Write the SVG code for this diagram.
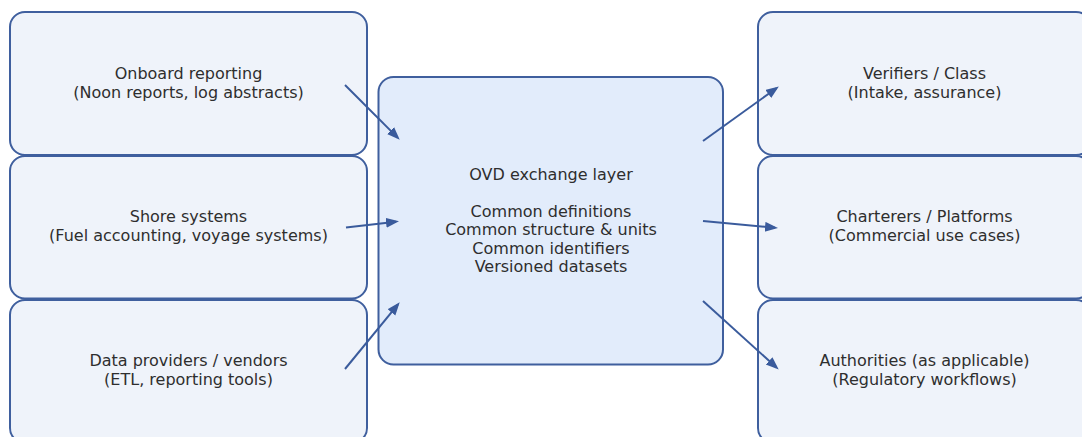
<svg xmlns="http://www.w3.org/2000/svg" width="1082" height="437" viewBox="0 0 1082 437">
  <style>
    .box { fill: #eff3fa; stroke: #3f5f9e; stroke-width: 2; }
    .core { fill: #e2ecfb; stroke: #3f5f9e; stroke-width: 2; }
    .lbl { font-family: "DejaVu Sans", "Liberation Sans", sans-serif; font-size: 16px; fill: #2e2e2e; text-anchor: middle; }
    .flow { stroke: #3a5b9c; stroke-width: 2; fill: none; marker-end: url(#head); }
  </style>
  <defs>
    <marker id="head" markerUnits="userSpaceOnUse" markerWidth="14" markerHeight="11" refX="10" refY="5" orient="auto">
      <path d="M0,0 L13,5 L0,10 z" fill="#3a5b9c"/>
    </marker>
  </defs>
  <rect width="1082" height="437" fill="#ffffff"/>

  <!-- sources -->
  <g id="onboard">
    <rect class="box" x="10" y="12" width="357" height="143" rx="15"/>
    <text class="lbl" x="188.5" y="79">Onboard reporting</text>
    <text class="lbl" x="188.5" y="98">(Noon reports, log abstracts)</text>
  </g>
  <g id="shore">
    <rect class="box" x="10" y="156" width="357" height="142.5" rx="15"/>
    <text class="lbl" x="188.5" y="222">Shore systems</text>
    <text class="lbl" x="188.5" y="241">(Fuel accounting, voyage systems)</text>
  </g>
  <g id="vendors">
    <rect class="box" x="10" y="300" width="357" height="143" rx="15"/>
    <text class="lbl" x="188.5" y="366">Data providers / vendors</text>
    <text class="lbl" x="188.5" y="385">(ETL, reporting tools)</text>
  </g>

  <!-- exchange layer -->
  <g id="ovd">
    <rect class="core" x="378.5" y="77" width="344.5" height="287.5" rx="15"/>
    <text class="lbl" x="551" y="179.5">OVD exchange layer</text>
    <text class="lbl" x="551" y="216.5">Common definitions</text>
    <text class="lbl" x="551" y="235">Common structure &amp; units</text>
    <text class="lbl" x="551" y="253.5">Common identifiers</text>
    <text class="lbl" x="551" y="272">Versioned datasets</text>
  </g>

  <!-- consumers -->
  <g id="verifiers">
    <rect class="box" x="758" y="12" width="333" height="143" rx="15"/>
    <text class="lbl" x="924.5" y="79">Verifiers / Class</text>
    <text class="lbl" x="924.5" y="98">(Intake, assurance)</text>
  </g>
  <g id="charterers">
    <rect class="box" x="758" y="156" width="333" height="142.5" rx="15"/>
    <text class="lbl" x="924.5" y="222">Charterers / Platforms</text>
    <text class="lbl" x="924.5" y="241">(Commercial use cases)</text>
  </g>
  <g id="authorities">
    <rect class="box" x="758" y="300" width="333" height="143" rx="15"/>
    <text class="lbl" x="924.5" y="366">Authorities (as applicable)</text>
    <text class="lbl" x="924.5" y="385">(Regulatory workflows)</text>
  </g>

  <!-- flows -->
  <g id="connectors">
    <line class="flow" x1="345" y1="85" x2="397.6" y2="137.6"/>
    <line class="flow" x1="346" y1="227.5" x2="396" y2="221.7"/>
    <line class="flow" x1="345" y1="369" x2="397.8" y2="304.6"/>
    <line class="flow" x1="703" y1="141" x2="776.4" y2="88.2"/>
    <line class="flow" x1="703" y1="221" x2="775" y2="227.8"/>
    <line class="flow" x1="703" y1="301" x2="776.5" y2="367.6"/>
  </g>
</svg>
